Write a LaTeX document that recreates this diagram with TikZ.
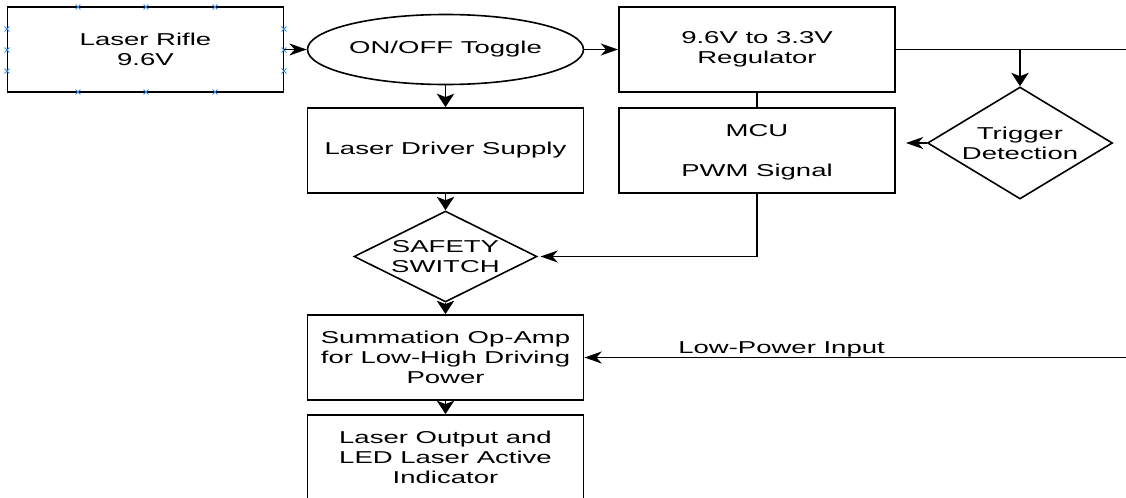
\documentclass[tikz,border=0pt]{standalone}
\usepackage{fontspec}
\setmainfont{Liberation Sans}[FakeStretch=1.6]
\usetikzlibrary{arrows.meta,shapes.geometric,shapes.misc}
\definecolor{handleblue}{RGB}{50,140,240}

\begin{document}
\begin{tikzpicture}[
  x=0.75pt,y=-0.75pt,
  font=\fontsize{12.9}{15}\selectfont,
  block/.style={draw,line width=1.4pt,minimum width=207pt,minimum height=63.75pt,align=center,inner sep=0pt},
  toggle/.style={draw,ellipse,line width=1.2pt,minimum width=207pt,minimum height=52.5pt,inner sep=0pt},
  check/.style={draw,diamond,line width=1.2pt,align=center,inner sep=0pt},
  handle/.style={cross out,draw=handleblue,line width=0.7pt,minimum size=3pt,inner sep=0pt},
  wire/.style={line width=1.2pt},
  hlink/.style={wire,-{Stealth[length=13pt,width=9pt,inset=4pt]}},
  vlink/.style={wire,-{Stealth[length=10pt,width=13pt,inset=2.5pt]}}
]
  \clip (0,0) rectangle (1126,497);

  \node[block] (rifle) at (145.5,49.5) {Laser Rifle\\9.6V};
  \node[toggle] (toggle) at (445.5,49.5) {ON/OFF Toggle};
  \node[block] (driver) at (445.5,150.5) {Laser Driver Supply};
  \node[check,minimum width=137.25pt,minimum height=68.25pt,shape aspect=2] (safety) at (445.5,256.5) {SAFETY\\SWITCH};
  \node[block] (summation) at (445.5,357.5) {Summation Op-Amp\\for Low-High Driving\\Power};
  \node[block] (output) at (445.5,457.5) {Laser Output and\\LED Laser Active\\Indicator};

  \node[block] (regulator) at (757,49.5) {9.6V to 3.3V\\Regulator};
  \node[block] (mcu) at (757,150.5) {\\[-3pt]MCU\\[15pt]PWM Signal};
  \node[check,minimum width=138.75pt,minimum height=84pt,shape aspect=1.65] (trigger) at (1020,143) {Trigger\\Detection};

  \foreach \hx in {78,146,215}
    \foreach \hy in {7,92}
      \node[handle] (hdl-\hx-\hy) at (\hx,\hy) {};
  \foreach \hy in {29,50,71}
    \foreach \hx in {7,284}
      \node[handle] (hdl-\hx-\hy) at (\hx,\hy) {};

  \coordinate (regout) at (1126,49.5);
  \coordinate (lpin) at (1126,357.5);
  \coordinate (tap) at (trigger.north |- regulator.east);

  \draw[wire] (regulator) -- (mcu);
  \draw[wire] (regulator.east) -- (regout);

  \path[hlink]
    (rifle) edge (toggle)
    (toggle) edge (regulator)
    (trigger.west) edge[shorten >=7.5pt] (trigger.west -| mcu.east)
    (lpin) edge node[above,inner sep=0pt,pos=0.636] (lowpower) {Low-Power Input} (summation.east);

  \path[vlink]
    (toggle) edge (driver)
    (driver) edge (safety)
    (safety) edge (summation)
    (summation) edge (output)
    (tap) edge (trigger);

  \draw[hlink,shorten >=2pt] (mcu.south) |- (safety.east);
\end{tikzpicture}
\end{document}
